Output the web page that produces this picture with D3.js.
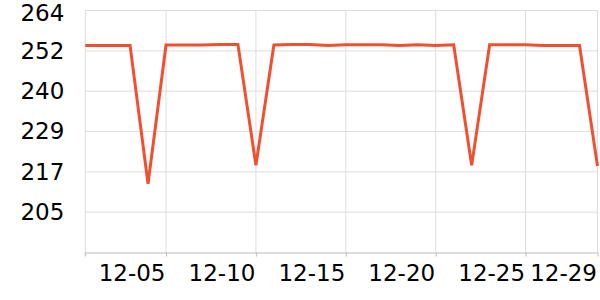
<!DOCTYPE html>
<html>
<head>
<meta charset="utf-8">
<script src="https://cdn.jsdelivr.net/npm/d3@7"></script>
<style>
    body { margin: 0; background: #fff; }
    #chart { width: 600px; height: 300px; }
    text { font-family: "DejaVu Sans", sans-serif; }
</style>
</head>
<body>
<div id="chart"></div>
<script>

// sample times (first sample is mid-day, the rest daily)
const times = [
    "2023-11-30 12:15", "2023-12-01 00:00", "2023-12-02 00:00", "2023-12-03 00:00",
    "2023-12-04 00:00", "2023-12-05 00:00", "2023-12-06 00:00", "2023-12-07 00:00",
    "2023-12-08 00:00", "2023-12-09 00:00", "2023-12-10 00:00", "2023-12-11 00:00",
    "2023-12-12 00:00", "2023-12-13 00:00", "2023-12-14 00:00", "2023-12-15 00:00",
    "2023-12-16 00:00", "2023-12-17 00:00", "2023-12-18 00:00", "2023-12-19 00:00",
    "2023-12-20 00:00", "2023-12-21 00:00", "2023-12-22 00:00", "2023-12-23 00:00",
    "2023-12-24 00:00", "2023-12-25 00:00", "2023-12-26 00:00", "2023-12-27 00:00",
    "2023-12-28 00:00", "2023-12-29 00:00"
];

const values = [
    253.9, 253.9, 253.9, 253.9, 213.9, 254.0, 254.0, 254.0, 254.2, 254.2,
    219.2, 254.0, 254.2, 254.2, 253.9, 254.1, 254.1, 254.1, 253.9, 254.1,
    253.9, 254.1, 219.2, 254.1, 254.1, 254.1, 253.9, 253.9, 253.9, 219.0
];

const xTickLabels = ["12-05", "12-10", "12-15", "12-20", "12-25", "12-29"];
const yDomain = [194, 264];
const yTickLabels = ["", "205", "217", "229", "240", "252", "264"];


class LineChart {

    constructor(parentElement, times, values) {
        this.parentElement = parentElement;
        this.times = times;
        this.values = values;
        this.displayData = [];

        this.initVis();
    }

    initVis() {
        let vis = this;

        vis.margin = {top: 10.5, right: 2.5, bottom: 47.5, left: 85.3};
        vis.width = 600 - vis.margin.left - vis.margin.right;
        vis.height = 300 - vis.margin.top - vis.margin.bottom;

        vis.svg = d3.select("#" + vis.parentElement)
            .append("svg")
            .attr("width", 600)
            .attr("height", 300)
            .append("g")
            .attr("transform", `translate(${vis.margin.left}, ${vis.margin.top})`);

        vis.x = d3.scaleTime()
            .range([0, vis.width]);

        vis.y = d3.scaleLinear()
            .domain(yDomain)
            .range([vis.height, 0]);

        vis.parseTime = d3.timeParse("%Y-%m-%d %H:%M");
        vis.parseTick = d3.timeParse("%Y-%m-%d");

        vis.wrangleData();
    }

    wrangleData() {
        let vis = this;

        vis.displayData = vis.times.map((t, i) => ({date: vis.parseTime(t), value: vis.values[i]}));

        vis.updateVis();
    }

    updateVis() {
        let vis = this;

        vis.x.domain(d3.extent(vis.displayData, d => d.date));

        // evenly split y ticks
        let n = yTickLabels.length - 1;
        let yTicks = d3.range(n + 1).map(i => yDomain[0] + i * (yDomain[1] - yDomain[0]) / n);
        let xTicks = xTickLabels.map(s => vis.parseTick("2023-" + s));

        // horizontal grid
        vis.svg.append("g").attr("class", "grid-y")
            .selectAll("line")
            .data(yTicks.slice(1))
            .enter()
            .append("line")
            .attr("x1", 0)
            .attr("x2", vis.width)
            .attr("y1", d => vis.y(d))
            .attr("y2", d => vis.y(d))
            .attr("stroke", "#dddddd")
            .attr("stroke-width", 1);

        // vertical grid (left edge + date ticks)
        vis.svg.append("g").attr("class", "grid-x")
            .selectAll("line")
            .data([vis.x.domain()[0]].concat(xTicks))
            .enter()
            .append("line")
            .attr("x1", d => vis.x(d))
            .attr("x2", d => vis.x(d))
            .attr("y1", 0)
            .attr("y2", vis.height)
            .attr("stroke", "#dddddd")
            .attr("stroke-width", 1);

        // x axis
        let xAxis = vis.svg.append("g")
            .attr("transform", `translate(0, ${vis.height})`)
            .call(d3.axisBottom(vis.x)
                .tickValues(xTicks)
                .tickFormat(d3.timeFormat("%m-%d"))
                .tickSizeOuter(0)
                .tickSize(4)
                .tickPadding(8));

        xAxis.select(".domain").attr("stroke", "#bbbbbb").attr("d", `M-0.5,0.5H${vis.width}`);
        xAxis.selectAll(".tick line").attr("stroke", "#bbbbbb");
        xAxis.selectAll(".tick text")
            .attr("text-anchor", "end")
            .attr("dx", -1)
            .style("font-size", "23px")
            .attr("fill", "#000");

        // left tick mark at origin
        xAxis.append("line")
            .attr("x1", 0).attr("x2", 0)
            .attr("y1", 0).attr("y2", 4)
            .attr("stroke", "#bbbbbb");

        // y axis labels
        let yAxis = vis.svg.append("g")
            .call(d3.axisLeft(vis.y)
                .tickValues(yTicks)
                .tickFormat((d, i) => yTickLabels[i])
                .tickSize(0)
                .tickPadding(21));

        yAxis.select(".domain").remove();
        yAxis.selectAll(".tick text")
            .style("font-size", "23px")
            .attr("fill", "#000");

        // keep the top label inside the canvas
        yAxis.selectAll(".tick text")
            .filter((d, i) => i === n)
            .attr("dy", "0.42em");

        // line
        let line = d3.line()
            .x(d => vis.x(d.date))
            .y(d => vis.y(d.value));

        vis.svg.append("path")
            .datum(vis.displayData)
            .attr("fill", "none")
            .attr("stroke", "#f24f2f")
            .attr("stroke-width", 3)
            .attr("d", line);
    }
}

new LineChart("chart", times, values);

</script>
</body>
</html>
